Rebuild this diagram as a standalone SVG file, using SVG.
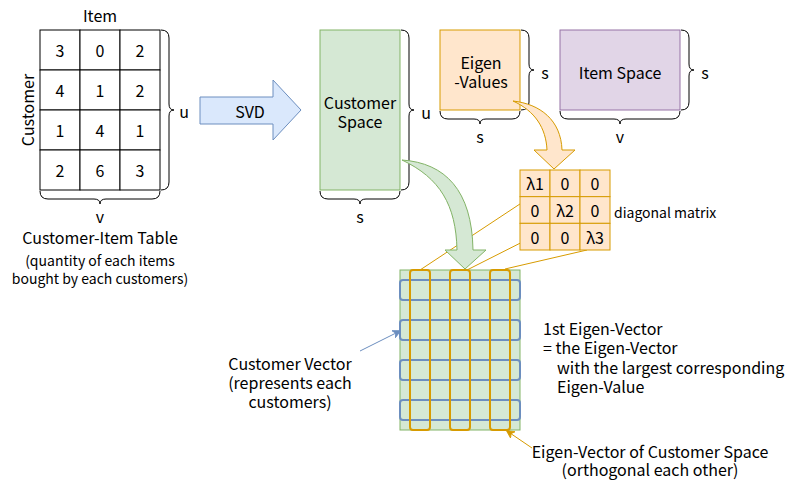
<svg xmlns="http://www.w3.org/2000/svg" width="801" height="481" viewBox="0 0 801 481">
<defs>
<style>
text{font-family:"Noto Sans CJK JP","Noto Sans","Liberation Sans",sans-serif;fill:#000;dominant-baseline:central}
.m{text-anchor:middle}
.f16{font-size:16px}
.f14{font-size:14px}
.cell{fill:#fff;stroke:#000;stroke-width:1}
.brace{fill:none;stroke:#000;stroke-width:1}
.green{fill:#d5e8d4;stroke:#82b366;stroke-width:1}
.orange{fill:#ffe6cc;stroke:#d79b00;stroke-width:1}
.purple{fill:#e1d5e7;stroke:#9673a6;stroke-width:1}
.blue{fill:#dae8fc;stroke:#6c8ebf;stroke-width:1}
.ovec{fill:none;stroke:#d79b00;stroke-width:2}
.bvec{fill:none;stroke:#6c8ebf;stroke-width:2}
.oline{stroke:#d79b00;stroke-width:1;fill:none}
</style>
<marker id="arrB" viewBox="0 0 10 10" refX="9" refY="5" markerWidth="8" markerHeight="8" orient="auto" markerUnits="userSpaceOnUse"><path d="M0,0 L10,5 L0,10 L3,5 Z" fill="#6c8ebf" stroke="#6c8ebf"/></marker>
<marker id="arrO" viewBox="0 0 10 10" refX="9" refY="5" markerWidth="8" markerHeight="8" orient="auto" markerUnits="userSpaceOnUse"><path d="M0,0 L10,5 L0,10 L3,5 Z" fill="#d79b00" stroke="#d79b00"/></marker>
</defs>

<g id="table">
<text class="m f16" x="100" y="15">Item</text>
<text class="m f16" x="27" y="110" transform="rotate(-90 27 110)">Customer</text>
<rect class="cell" x="40" y="30" width="40" height="40"/><rect class="cell" x="80" y="30" width="40" height="40"/><rect class="cell" x="120" y="30" width="40" height="40"/>
<rect class="cell" x="40" y="70" width="40" height="40"/><rect class="cell" x="80" y="70" width="40" height="40"/><rect class="cell" x="120" y="70" width="40" height="40"/>
<rect class="cell" x="40" y="110" width="40" height="40"/><rect class="cell" x="80" y="110" width="40" height="40"/><rect class="cell" x="120" y="110" width="40" height="40"/>
<rect class="cell" x="40" y="150" width="40" height="40"/><rect class="cell" x="80" y="150" width="40" height="40"/><rect class="cell" x="120" y="150" width="40" height="40"/>
<text class="m f16" x="60" y="50">3</text><text class="m f16" x="100" y="50">0</text><text class="m f16" x="140" y="50">2</text>
<text class="m f16" x="60" y="90">4</text><text class="m f16" x="100" y="90">1</text><text class="m f16" x="140" y="90">2</text>
<text class="m f16" x="60" y="130">1</text><text class="m f16" x="100" y="130">4</text><text class="m f16" x="140" y="130">1</text>
<text class="m f16" x="60" y="170">2</text><text class="m f16" x="100" y="170">6</text><text class="m f16" x="140" y="170">3</text>
<path class="brace" d="M161,30 Q169,30 169,38 L169,104 Q169,110 174,110 Q169,110 169,116 L169,182 Q169,190 161,190"/>
<text class="m f16" x="184" y="111">u</text>
<path class="brace" d="M40,191 Q40,199 48,199 L94,199 Q100,199 100,204 Q100,199 106,199 L152,199 Q160,199 160,191"/>
<text class="m f16" x="100" y="216">v</text>
<text class="m f16" x="100" y="237">Customer-Item Table</text>
<text class="m f14" x="100" y="260">(quantity of each items</text>
<text class="m f14" x="100" y="278">bought by each customers)</text>
</g>

<g id="svd">
<path class="blue" d="M200,97 L273,97 L273,80 L301,110 L273,140 L273,124 L200,124 Z"/>
<text class="m f16" x="250" y="111">SVD</text>
</g>

<g id="customer-space">
<rect class="green" x="320" y="30" width="80" height="160"/>
<text class="m f16" x="360" y="102">Customer</text>
<text class="m f16" x="360" y="121">Space</text>
<path class="brace" d="M401,30 Q409,30 409,38 L409,104 Q409,110 414,110 Q409,110 409,116 L409,182 Q409,190 401,190"/>
<text class="m f16" x="426" y="112">u</text>
<path class="brace" d="M320,191 Q320,199 328,199 L354,199 Q360,199 360,204 Q360,199 366,199 L392,199 Q400,199 400,191"/>
<text class="m f16" x="360" y="216">s</text>
</g>

<g id="eigen-values">
<rect class="orange" x="440" y="30" width="80" height="80"/>
<text class="m f16" x="481" y="62">Eigen</text>
<text class="m f16" x="481" y="81">-Values</text>
<path class="brace" d="M521,30 Q529,30 529,38 L529,64 Q529,70 534,70 Q529,70 529,76 L529,102 Q529,110 521,110"/>
<text class="m f16" x="545" y="72">s</text>
<path class="brace" d="M440,111 Q440,119 448,119 L474,119 Q480,119 480,124 Q480,119 486,119 L512,119 Q520,119 520,111"/>
<text class="m f16" x="480" y="136">s</text>
</g>

<g id="item-space">
<rect class="purple" x="560" y="30" width="120" height="80"/>
<text class="m f16" x="620" y="72">Item Space</text>
<path class="brace" d="M681,30 Q689,30 689,38 L689,64 Q689,70 694,70 Q689,70 689,76 L689,102 Q689,110 681,110"/>
<text class="m f16" x="705" y="72">s</text>
<path class="brace" d="M560,111 Q560,119 568,119 L614,119 Q620,119 620,124 Q620,119 626,119 L672,119 Q680,119 680,111"/>
<text class="m f16" x="620" y="136">v</text>
</g>

<g id="connectors">
<line class="oline" x1="529" y1="198" x2="420" y2="270"/>
<line class="oline" x1="560" y1="223" x2="467" y2="270"/>
<line class="oline" x1="587" y1="250" x2="505" y2="269"/>
<path class="orange" d="M513,101 C540,104 561,120 562,150 L575,150 L554,169 L534,150 L547,150 C546,128 535,111 513,101 Z"/>
<line x1="360" y1="351" x2="400" y2="331" stroke="#6c8ebf" stroke-width="1" marker-end="url(#arrB)"/>
<line x1="532" y1="448" x2="507" y2="431" stroke="#d79b00" stroke-width="1" marker-end="url(#arrO)"/>
</g>

<g id="diagonal-matrix">
<rect class="orange" x="520" y="170" width="30" height="26.67"/><rect class="orange" x="550" y="170" width="30" height="26.67"/><rect class="orange" x="580" y="170" width="30" height="26.67"/>
<rect class="orange" x="520" y="196.67" width="30" height="26.67"/><rect class="orange" x="550" y="196.67" width="30" height="26.67"/><rect class="orange" x="580" y="196.67" width="30" height="26.67"/>
<rect class="orange" x="520" y="223.33" width="30" height="26.67"/><rect class="orange" x="550" y="223.33" width="30" height="26.67"/><rect class="orange" x="580" y="223.33" width="30" height="26.67"/>
<text class="m f16" x="535" y="183">λ1</text><text class="m f16" x="565" y="183">0</text><text class="m f16" x="595" y="183">0</text>
<text class="m f16" x="535" y="210">0</text><text class="m f16" x="565" y="210">λ2</text><text class="m f16" x="595" y="210">0</text>
<text class="m f16" x="535" y="237">0</text><text class="m f16" x="565" y="237">0</text><text class="m f16" x="595" y="237">λ3</text>
<text class="f14" x="614" y="212">diagonal matrix</text>
</g>

<g id="customer-vectors">
<rect class="green" x="400" y="270" width="120" height="160"/>
<rect class="bvec" x="400" y="280" width="120" height="20" rx="3"/>
<rect class="bvec" x="400" y="320" width="120" height="20" rx="3"/>
<rect class="bvec" x="400" y="360" width="120" height="20" rx="3"/>
<rect class="bvec" x="400" y="400" width="120" height="20" rx="3"/>
<rect class="ovec" x="410" y="270" width="20" height="160" rx="3"/>
<rect class="ovec" x="450" y="270" width="20" height="160" rx="3"/>
<rect class="ovec" x="490" y="270" width="20" height="160" rx="3"/>
</g>

<g id="green-arrow">
<path class="green" d="M402,160 C445,163 472,190 473,250 L486,250 L465,269 L445,250 L457,250 C456,205 440,178 402,160 Z"/>
</g>

<g id="labels">
<text class="m f16" x="290" y="363">Customer Vector</text>
<text class="m f16" x="290" y="382">(represents each</text>
<text class="m f16" x="290" y="401">customers)</text>
<text class="f16" x="543" y="328">1st Eigen-Vector</text>
<text class="f16" x="543" y="347">= the Eigen-Vector</text>
<text class="f16" x="557" y="367">with the largest corresponding</text>
<text class="f16" x="557" y="386">Eigen-Value</text>
<text class="m f16" x="650" y="451">Eigen-Vector of Customer Space</text>
<text class="m f16" x="650" y="469">(orthogonal each other)</text>
</g>
</svg>
